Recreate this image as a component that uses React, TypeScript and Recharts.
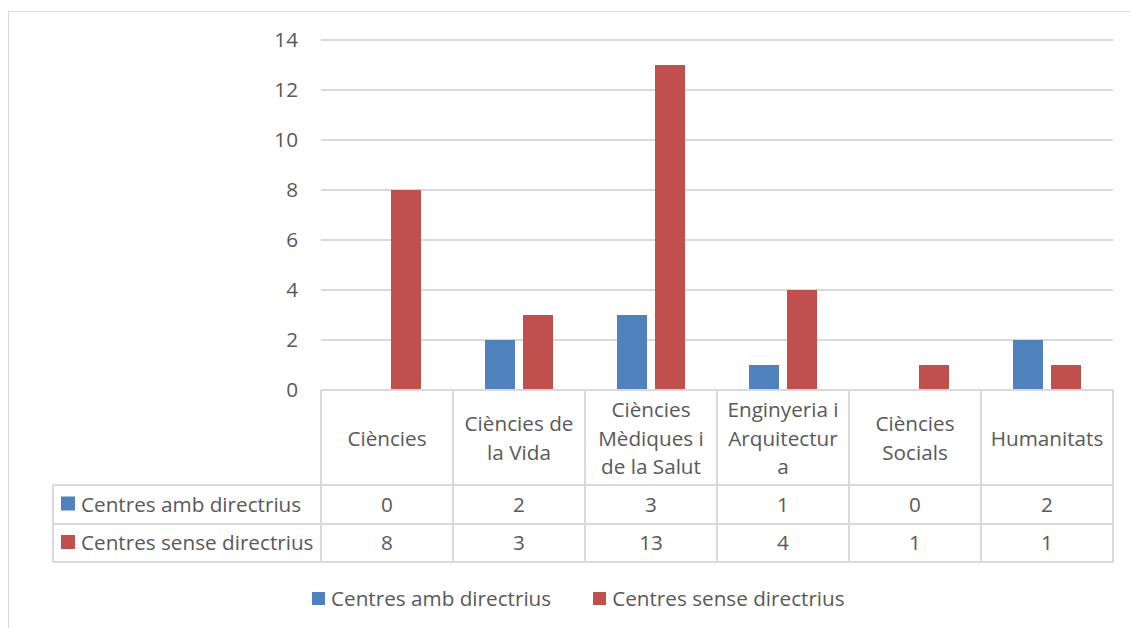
import { BarChart, Bar, XAxis, YAxis, CartesianGrid, Legend } from 'recharts'

const categories = [
  'Ciències',
  'Ciències de la Vida',
  'Ciències Mèdiques i de la Salut',
  'Enginyeria i Arquitectura',
  'Ciències Socials',
  'Humanitats',
]
// how the table header wraps each category
const headerLines = [
  ['Ciències'],
  ['Ciències de', 'la Vida'],
  ['Ciències', 'Mèdiques i', 'de la Salut'],
  ['Enginyeria i', 'Arquitectur', 'a'],
  ['Ciències', 'Socials'],
  ['Humanitats'],
]
const ambDirectrius = [0, 2, 3, 1, 0, 2]
const senseDirectrius = [8, 3, 13, 4, 1, 1]
const yTicks = [0, 2, 4, 6, 8, 10, 12, 14]

const SERIES = [
  { key: 'amb', name: 'Centres amb directrius', color: '#4f81bd', values: ambDirectrius },
  { key: 'sense', name: 'Centres sense directrius', color: '#c0504d', values: senseDirectrius },
]

const data = categories.map((c, i) => ({
  category: c,
  amb: ambDirectrius[i],
  sense: senseDirectrius[i],
}))

const TEXT = '#595959'
const LINE = '#d9d9d9'
const FONT = '"Open Sans", sans-serif'
const FS = 20.7
const HEADER_H = 95
const ROW_H = [39, 38]
const TABLE_LEFT = 53
const LINE_H = 28.5

function TableTick(props: any) {
  const { x, y, payload, width } = props
  const idx = categories.indexOf(payload.value)
  const colW = (typeof width === 'number' && width > 0 ? width : 792) / categories.length
  const left = x - colW / 2
  const right = x + colW / 2
  const r1 = y + HEADER_H
  const r2 = r1 + ROW_H[0]
  const r3 = r2 + ROW_H[1]
  const rowTops = [r1, r2]
  const lines = headerLines[idx] || [payload.value]
  const cy = y + HEADER_H / 2

  return (
    <g>
      {/* cell borders */}
      <line x1={left} x2={right} y1={y} y2={y} stroke={LINE} strokeWidth={2} />
      <line x1={left} x2={right} y1={r1} y2={r1} stroke={LINE} strokeWidth={2} />
      <line x1={left} x2={right} y1={r2} y2={r2} stroke={LINE} strokeWidth={2} />
      <line x1={left} x2={right} y1={r3} y2={r3} stroke={LINE} strokeWidth={2} />
      <line x1={left} x2={left} y1={y} y2={r3} stroke={LINE} strokeWidth={2} />
      {idx === categories.length - 1 && (
        <line x1={right} x2={right} y1={y} y2={r3} stroke={LINE} strokeWidth={2} />
      )}

      {lines.map((l, k) => (
        <text
          key={k}
          x={x}
          y={cy + (k - (lines.length - 1) / 2) * LINE_H}
          textAnchor="middle"
          dominantBaseline="central"
          fontSize={FS}
          fill={TEXT}
          fontFamily={FONT}
        >
          {l}
        </text>
      ))}

      {SERIES.map((s, k) => (
        <text
          key={s.key}
          x={x}
          y={rowTops[k] + ROW_H[k] / 2 - 1}
          textAnchor="middle"
          dominantBaseline="central"
          fontSize={FS}
          fill={TEXT}
          fontFamily={FONT}
        >
          {s.values[idx]}
        </text>
      ))}

      {/* series label column, drawn once */}
      {idx === 0 && (
        <g>
          <line x1={TABLE_LEFT} x2={left} y1={r1} y2={r1} stroke={LINE} strokeWidth={2} />
          <line x1={TABLE_LEFT} x2={left} y1={r2} y2={r2} stroke={LINE} strokeWidth={2} />
          <line x1={TABLE_LEFT} x2={left} y1={r3} y2={r3} stroke={LINE} strokeWidth={2} />
          <line x1={TABLE_LEFT} x2={TABLE_LEFT} y1={r1} y2={r3} stroke={LINE} strokeWidth={2} />
          {SERIES.map((s, k) => {
            const my = rowTops[k] + ROW_H[k] / 2 - 1
            return (
              <g key={s.key}>
                <rect x={TABLE_LEFT + 8} y={my - 7} width={14} height={14} fill={s.color} />
                <text
                  x={TABLE_LEFT + 28}
                  y={my}
                  dominantBaseline="central"
                  fontSize={FS}
                  fill={TEXT}
                  fontFamily={FONT}
                >
                  {s.name}
                </text>
              </g>
            )
          })}
        </g>
      )}
    </g>
  )
}

function BottomLegend() {
  return (
    <div
      style={{
        height: 30,
        display: 'flex',
        alignItems: 'center',
        paddingLeft: 312,
        fontFamily: FONT,
        fontSize: FS,
        color: TEXT,
      }}
    >
      {SERIES.map((s, k) => (
        <div key={s.key} style={{ display: 'flex', alignItems: 'center', marginLeft: k ? 42 : 0 }}>
          <span style={{ width: 13, height: 13, background: s.color, marginRight: 6 }} />
          <span>{s.name}</span>
        </div>
      ))}
    </div>
  )
}

export default function App() {
  return (
    <div
      style={{
        position: 'absolute',
        left: 0,
        top: 0,
        width: 1130,
        height: 628,
        overflow: 'hidden',
        background: '#fff',
        fontFamily: FONT,
      }}
    >
      <div
        style={{
          position: 'absolute',
          left: 8,
          top: 11,
          width: 1140,
          height: 640,
          border: `1px solid ${LINE}`,
        }}
      />
      <BarChart
        width={1130}
        height={628}
        data={data}
        margin={{ top: 40, right: 17, left: 261, bottom: 15 }}
        barCategoryGap={32}
        barGap={8}
      >
        <CartesianGrid vertical={false} stroke={LINE} strokeWidth={2} />
        <XAxis
          dataKey="category"
          height={193}
          interval={0}
          axisLine={false}
          tickLine={false}
          tickSize={0}
          tickMargin={0}
          tick={<TableTick />}
        />
        <YAxis
          width={60}
          domain={[0, 14]}
          ticks={yTicks}
          axisLine={false}
          tickLine={false}
          tickSize={0}
          tickMargin={23}
          tick={{ fontSize: FS, fill: TEXT, fontFamily: FONT }}
        />
        <Legend verticalAlign="bottom" wrapperStyle={{ left: 0, width: 1130 }} content={<BottomLegend />} />
        {SERIES.map(s => (
          <Bar key={s.key} dataKey={s.key} name={s.name} fill={s.color} isAnimationActive={false} />
        ))}
      </BarChart>
    </div>
  )
}
